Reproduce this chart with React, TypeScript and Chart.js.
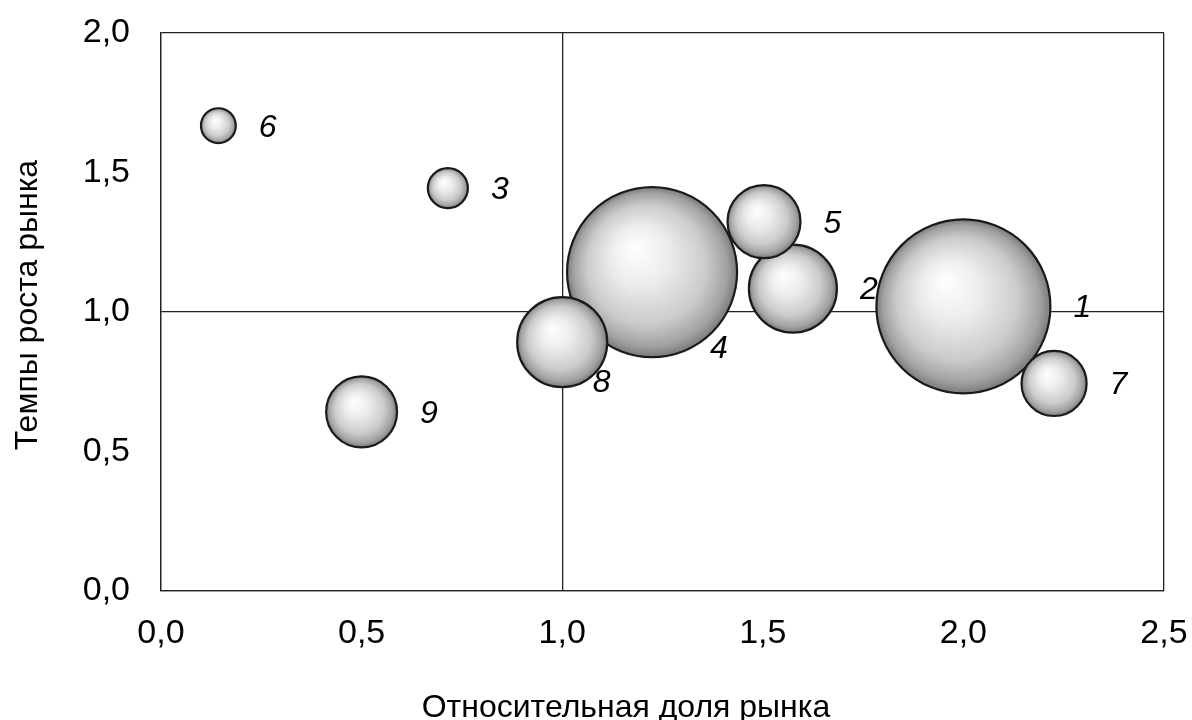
import React, { useEffect, useRef } from "react";
import { Chart, registerables } from "chart.js";

Chart.register(...registerables);

// Data
const labels = ["1", "2", "3", "4", "5", "6", "7", "8", "9"];
const marketShare = [2.0, 1.575, 0.715, 1.224, 1.503, 0.143, 2.226, 1.0, 0.5];
const marketGrowth = [1.02, 1.084, 1.444, 1.143, 1.324, 1.668, 0.744, 0.892, 0.642];
const bubbleSize = [100, 25.6, 5.3, 95.5, 17.6, 4.0, 14.0, 26.8, 16.6];
const labelPlacement = ["right", "right", "right", "below", "right", "right", "right", "below", "right"];

const xTitle = "Относительная доля рынка";
const yTitle = "Темпы роста рынка";

const FONT = "'Liberation Sans', Arial, sans-serif";
const SIZE_SCALE = 8.7;

const fmt = (v: number) => v.toFixed(1).replace(".", ",");

export default function App() {
  const ref = useRef<HTMLCanvasElement | null>(null);

  useEffect(() => {
    if (!ref.current) return;

    const points = labels.map((_, i) => ({
      x: marketShare[i],
      y: marketGrowth[i],
      r: Math.sqrt(bubbleSize[i]) * SIZE_SCALE,
    }));

    const labelPlugin = {
      id: "bubbleLabels",
      afterDatasetsDraw(chart: any) {
        const ctx = chart.ctx;
        const meta = chart.getDatasetMeta(0);
        ctx.save();
        ctx.font = `italic 32px ${FONT}`;
        ctx.fillStyle = "#000";
        ctx.textAlign = "left";
        ctx.textBaseline = "middle";
        meta.data.forEach((el: any, i: number) => {
          const r = el.options.radius;
          if (labelPlacement[i] === "below") {
            ctx.fillText(labels[i], el.x + r * 0.68, el.y + r * 0.9);
          } else {
            ctx.fillText(labels[i], el.x + r + 23, el.y + 2);
          }
        });
        ctx.restore();
      },
    };

    const titlePlugin = {
      id: "axisTitles",
      afterDraw(chart: any) {
        const ctx = chart.ctx;
        ctx.save();
        ctx.font = `32px ${FONT}`;
        ctx.fillStyle = "#000";
        ctx.textAlign = "center";
        ctx.textBaseline = "alphabetic";
        ctx.fillText(xTitle, 626, 717);
        ctx.translate(37, 305);
        ctx.rotate(-Math.PI / 2);
        ctx.fillText(yTitle, 0, 0);
        ctx.restore();
      },
    };

    const bg = (c: any) => {
      const chart = c.chart;
      const raw = c.raw;
      if (!raw || !chart.chartArea) return "#ccc";
      const xs = chart.scales.x;
      const ys = chart.scales.y;
      const cx = xs.getPixelForValue(raw.x);
      const cy = ys.getPixelForValue(raw.y);
      const r = raw.r;
      const g = chart.ctx.createRadialGradient(cx - r * 0.22, cy - r * 0.3, 0, cx, cy, r);
      g.addColorStop(0, "#ffffff");
      g.addColorStop(0.35, "#ececec");
      g.addColorStop(0.7, "#cbcbcb");
      g.addColorStop(0.9, "#a2a2a2");
      g.addColorStop(1, "#7a7a7a");
      return g;
    };

    const chart = new Chart(ref.current, {
      type: "bubble",
      data: {
        datasets: [
          {
            data: points,
            backgroundColor: bg,
            borderColor: "#1a1a1a",
            borderWidth: 2.2,
            hoverBorderWidth: 2.2,
            clip: false as any,
          },
        ],
      },
      options: {
        responsive: false,
        animation: false,
        events: [],
        layout: { autoPadding: false, padding: { top: 33, right: 28, left: 0, bottom: 0 } },
        plugins: {
          legend: { display: false },
          tooltip: { enabled: false },
        },
        scales: {
          x: {
            type: "linear",
            min: 0,
            max: 2.5,
            afterFit: (s: any) => {
              s.height = 129;
              s.paddingLeft = 0;
              s.paddingRight = 0;
            },
            ticks: {
              stepSize: 0.5,
              padding: 22,
              color: "#000",
              font: { family: FONT, size: 34 },
              callback: (v: any) => fmt(Number(v)),
              maxRotation: 0,
            },
            grid: {
              drawTicks: false,
              lineWidth: 1.3,
              color: (c: any) =>
                c.tick && (c.tick.value === 1 || c.tick.value === 0 || c.tick.value === 2.5)
                  ? "#222"
                  : "rgba(0,0,0,0)",
            },
            border: { display: true, color: "#222", width: 1.3 },
          },
          y: {
            type: "linear",
            min: 0,
            max: 2,
            afterFit: (s: any) => {
              s.width = 161;
              s.paddingTop = 0;
              s.paddingBottom = 0;
            },
            ticks: {
              stepSize: 0.5,
              padding: 31,
              color: "#000",
              font: { family: FONT, size: 34 },
              callback: (v: any) => fmt(Number(v)),
            },
            grid: {
              drawTicks: false,
              lineWidth: 1.3,
              color: (c: any) =>
                c.tick && (c.tick.value === 1 || c.tick.value === 0 || c.tick.value === 2)
                  ? "#222"
                  : "rgba(0,0,0,0)",
            },
            border: { display: true, color: "#222", width: 1.3 },
          },
        },
      },
      plugins: [labelPlugin, titlePlugin],
    });

    return () => chart.destroy();
  }, []);

  return (
    <div style={{ position: "fixed", left: 0, top: 0, width: 1192, height: 720, background: "#fff" }}>
      <canvas ref={ref} width={1192} height={720} />
    </div>
  );
}
